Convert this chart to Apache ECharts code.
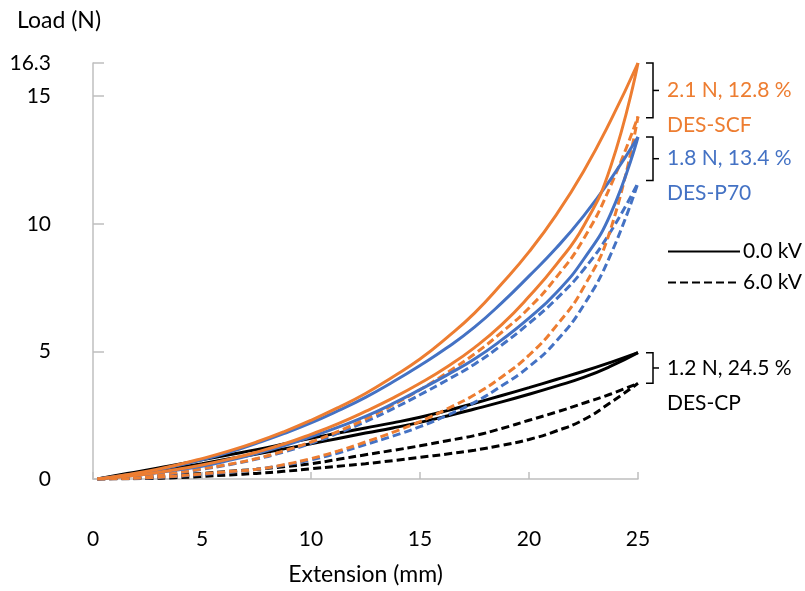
<!DOCTYPE html>
<html>
<head>
<meta charset="utf-8">
<script src="https://cdn.jsdelivr.net/npm/echarts@6/dist/echarts.min.js"></script>
<style>
  html, body { margin: 0; padding: 0; background: #fff; }
  #chart { width: 805px; height: 591px; }
</style>
</head>
<body>
<div id="chart"></div>
<script>
// extension grid (mm) shared by every branch
var ext = [0.2, 1.25, 2.5, 3.75, 5, 6.25, 7.5, 8.75, 10, 11.25, 12.5,
           13.75, 15, 16.25, 17.5, 18.75, 20, 21.25, 22.5, 23.75, 25];

// load (N), loading = upper branch, unloading = lower branch
var scf0Load   = [0, 0.13, 0.3, 0.53, 0.8, 1.1, 1.45, 1.85, 2.3, 2.8, 3.35,
                  4.0, 4.7, 5.55, 6.5, 7.65, 8.9, 10.35, 12.05, 14.05, 16.3];
var scf0Unload = [0, 0.08, 0.2, 0.36, 0.55, 0.78, 1.05, 1.37, 1.75, 2.17, 2.65,
                  3.17, 3.75, 4.4, 5.15, 6.05, 7.15, 8.4, 9.9, 12.25, 16.3];
var scf6Load   = [0, 0.04, 0.12, 0.24, 0.4, 0.58, 0.8, 1.1, 1.45, 1.87, 2.35,
                  2.9, 3.5, 4.17, 4.9, 5.75, 6.7, 7.9, 9.4, 11.5, 14.2];
var scf6Unload = [0, 0.01, 0.05, 0.11, 0.2, 0.29, 0.38, 0.56, 0.8, 1.1, 1.45,
                  1.83, 2.25, 2.75, 3.3, 4.0, 4.85, 6.0, 7.5, 9.8, 14.2];

var p700Load   = [0, 0.12, 0.28, 0.5, 0.75, 1.05, 1.4, 1.78, 2.2, 2.68, 3.2,
                  3.8, 4.45, 5.15, 5.95, 6.9, 7.95, 9.05, 10.3, 11.75, 13.4];
var p700Unload = [0, 0.09, 0.2, 0.34, 0.5, 0.73, 1.0, 1.3, 1.65, 2.03, 2.45,
                  2.95, 3.5, 4.08, 4.7, 5.45, 6.3, 7.3, 8.6, 10.4, 13.4];
var p706Load   = [0, 0.04, 0.1, 0.22, 0.38, 0.56, 0.78, 1.06, 1.4, 1.8, 2.25,
                  2.75, 3.3, 3.88, 4.5, 5.25, 6.1, 7.05, 8.2, 9.7, 11.6];
var p706Unload = [0, 0.01, 0.04, 0.1, 0.18, 0.27, 0.38, 0.54, 0.75, 1.02, 1.35,
                  1.68, 2.05, 2.5, 3.0, 3.65, 4.4, 5.4, 6.8, 8.8, 11.6];

var cp0Load    = [0, 0.17, 0.35, 0.55, 0.75, 0.95, 1.15, 1.37, 1.6, 1.8, 2.0,
                  2.2, 2.42, 2.68, 2.97, 3.27, 3.58, 3.9, 4.22, 4.57, 4.95];
var cp0Unload  = [0, 0.12, 0.25, 0.42, 0.6, 0.79, 0.98, 1.18, 1.38, 1.59, 1.8,
                  2.0, 2.22, 2.47, 2.74, 3.02, 3.32, 3.64, 3.98, 4.42, 4.95];
var cp6Load    = [0, 0.03, 0.08, 0.15, 0.22, 0.3, 0.38, 0.48, 0.6, 0.77, 0.95,
                  1.12, 1.3, 1.5, 1.7, 1.98, 2.3, 2.62, 2.97, 3.33, 3.75];
var cp6Unload  = [0, 0.01, 0.02, 0.05, 0.1, 0.16, 0.22, 0.3, 0.4, 0.5, 0.6,
                  0.72, 0.85, 0.98, 1.13, 1.32, 1.55, 1.88, 2.32, 3.0, 3.75];

// hysteresis annotations at the right of the peaks
var bracketTop    = [16.3, 13.4, 4.95];
var bracketBottom = [14.15, 11.7, 3.75];
var bracketLabels = ['2.1 N, 12.8 %', '1.8 N, 13.4 %', '1.2 N, 24.5 %'];
var bracketNames  = ['DES-SCF', 'DES-P70', 'DES-CP'];
var bracketColors = ['#ED7D31', '#4472C4', '#000000'];

var ORANGE = '#ED7D31', BLUE = '#4472C4', BLACK = '#000000';
var FONT = 'Lato';

function pairs(ys) {
    return ext.map(function (x, i) { return [x, ys[i]]; });
}

function branch(name, ys, color, dashed) {
    return {
        name: name,
        type: 'line',
        data: pairs(ys),
        smooth: 0.5,
        symbol: 'none',
        silent: true,
        lineStyle: { color: color, width: 3, type: dashed ? [8, 4] : 'solid' },
        z: 3
    };
}

var myChart = echarts.init(document.getElementById('chart'), null, { renderer: 'canvas' });

var option = {
    animation: false,
    title: {
        text: 'Load (N)',
        left: 12, top: 4,
        textStyle: { fontFamily: FONT, fontSize: 23, fontWeight: 'normal', color: '#000' }
    },
    grid: { left: 93, right: 167, top: 63, bottom: 111 },
    legend: {
        data: ['0.0 kV', '6.0 kV'],
        orient: 'vertical',
        left: 662, top: 236,
        itemWidth: 72, itemHeight: 14, itemGap: 10,
        itemStyle: { opacity: 0 },
        textStyle: { fontFamily: FONT, fontSize: 21, color: '#000', padding: [0, 0, 0, -2] }
    },
    xAxis: {
        type: 'value',
        min: 0, max: 25, interval: 5,
        offset: 26,
        name: 'Extension (mm)',
        nameLocation: 'middle',
        nameGap: 58,
        nameTextStyle: { fontFamily: FONT, fontSize: 23, color: '#000' },
        axisLine: { lineStyle: { color: '#bfbfbf', width: 1.5 } },
        axisTick: { inside: true, length: 7, lineStyle: { color: '#bfbfbf', width: 1.5 } },
        axisLabel: { fontFamily: FONT, fontSize: 21, color: '#000', margin: 24 },
        splitLine: { show: false }
    },
    yAxis: {
        type: 'value',
        min: 0, max: 16.3, interval: 5,
        offset: 22,
        axisLine: { show: true, lineStyle: { color: '#bfbfbf', width: 1.5 } },
        axisTick: { show: true, inside: true, length: 11, lineStyle: { color: '#bfbfbf', width: 1.5 } },
        axisLabel: { fontFamily: FONT, fontSize: 21, color: '#000', margin: 20 },
        splitLine: { show: false }
    },
    series: [
        { name: '0.0 kV', type: 'line', data: [], symbol: 'none', lineStyle: { color: BLACK, width: 3 }, itemStyle: { color: BLACK } },
        { name: '6.0 kV', type: 'line', data: [], symbol: 'none', lineStyle: { color: BLACK, width: 3, type: [8, 4] }, itemStyle: { color: BLACK } },
        branch('cp6L', cp6Load, BLACK, true),
        branch('cp6U', cp6Unload, BLACK, true),
        branch('cp0L', cp0Load, BLACK, false),
        branch('cp0U', cp0Unload, BLACK, false),
        branch('p706L', p706Load, BLUE, true),
        branch('p706U', p706Unload, BLUE, true),
        branch('scf6L', scf6Load, ORANGE, true),
        branch('scf6U', scf6Unload, ORANGE, true),
        branch('p700L', p700Load, BLUE, false),
        branch('p700U', p700Unload, BLUE, false),
        branch('scf0U', scf0Unload, ORANGE, false),
        branch('scf0L', scf0Load, ORANGE, false),
        {
            name: 'brackets',
            type: 'custom',
            clip: false,
            silent: true,
            data: bracketTop.map(function (t, i) { return [25, t, bracketBottom[i]]; }),
            renderItem: function (params, api) {
                var i = params.dataIndex;
                var top = api.coord([25, api.value(1)]);
                var bot = api.coord([25, api.value(2)]);
                var xv = top[0] + 15;
                var yt = top[1], yb = bot[1], ym = (yt + yb) / 2;
                var ls = { stroke: '#000', lineWidth: 1.5 };
                return {
                    type: 'group',
                    children: [
                        { type: 'polyline', shape: { points: [[xv - 7, yt], [xv, yt], [xv, yb], [xv - 7, yb]] }, style: Object.assign({ fill: null }, ls) },
                        { type: 'line', shape: { x1: xv, y1: ym, x2: xv + 6, y2: ym }, style: ls },
                        { type: 'text', style: { text: bracketLabels[i], x: xv + 14, y: ym, verticalAlign: 'middle', fill: bracketColors[i], font: '21px ' + FONT } },
                        { type: 'text', style: { text: bracketNames[i], x: xv + 14, y: ym + 35, verticalAlign: 'middle', fill: bracketColors[i], font: '21px ' + FONT } }
                    ]
                };
            }
        }
    ]
};

myChart.setOption(option);
</script>
</body>
</html>
